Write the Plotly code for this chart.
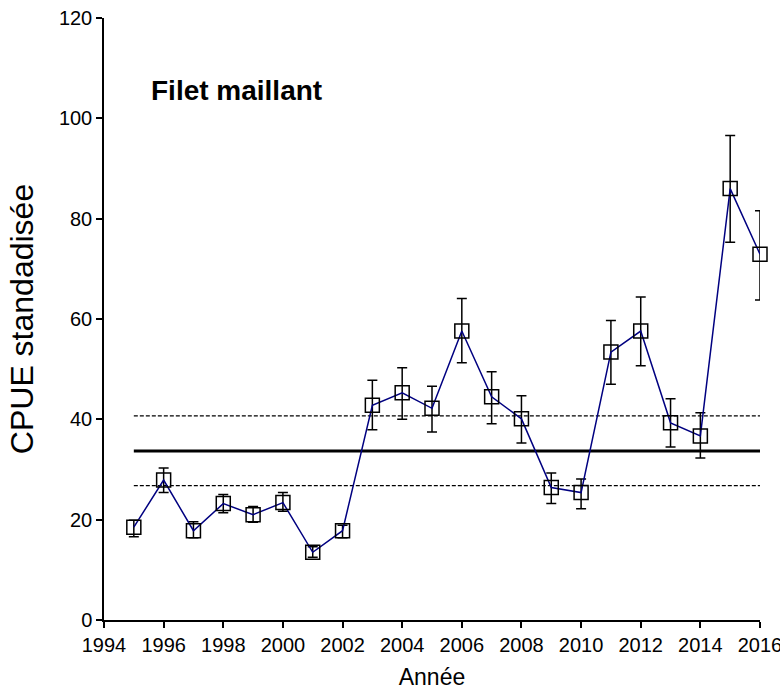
import plotly.graph_objects as go

# Standardised CPUE, gillnet fishery
years = [1995, 1996, 1997, 1998, 1999, 2000, 2001, 2002, 2003, 2004, 2005,
         2006, 2007, 2008, 2009, 2010, 2011, 2012, 2013, 2014, 2015, 2016]
cpue = [18.5, 27.9, 17.8, 23.2, 21.0, 23.4, 13.5, 17.8, 42.8, 45.3, 42.2,
        57.6, 44.5, 40.1, 26.4, 25.4, 53.4, 57.6, 39.3, 36.7, 86.0, 72.9]
upper = [19.9, 30.3, 19.6, 25.0, 22.6, 25.4, 14.6, 18.9, 47.8, 50.3, 46.6,
         64.1, 49.5, 44.7, 29.3, 28.1, 59.7, 64.4, 44.1, 41.3, 96.6, 81.6]
lower = [16.6, 25.4, 16.4, 21.4, 19.5, 21.7, 12.5, 16.4, 37.9, 40.0, 37.5,
         51.3, 39.1, 35.3, 23.2, 22.2, 47.0, 50.7, 34.5, 32.3, 75.3, 63.8]

# Long-term mean and its band
mean_level = 33.7
band_high = 40.7
band_low = 26.8
ref_span = [1995, 2016]

err_plus = [u - v for u, v in zip(upper, cpue)]
err_minus = [v - l for v, l in zip(cpue, lower)]

FONT = "Liberation Sans, Arial, sans-serif"

fig = go.Figure()

for level, dash, width in [(band_high, "4px,2px", 1.2), (band_low, "4px,2px", 1.2),
                           (mean_level, "solid", 3)]:
    fig.add_trace(go.Scatter(
        x=ref_span, y=[level, level], mode="lines",
        line=dict(color="black", width=width, dash=dash),
        hoverinfo="skip", showlegend=False, cliponaxis=False))

fig.add_trace(go.Scatter(
    x=years, y=cpue, mode="lines+markers", cliponaxis=False,
    line=dict(color="#000080", width=1.5),
    marker=dict(symbol="square-open", size=14, color="black",
                line=dict(color="black", width=1.5)),
    error_y=dict(type="data", symmetric=False, array=err_plus,
                 arrayminus=err_minus, color="black", thickness=1.5, width=5),
    showlegend=False))

fig.add_annotation(x=1995.5, y=105.5, xref="x", yref="y", text="<b>Filet maillant</b>",
                   showarrow=False, xanchor="left", yanchor="middle",
                   font=dict(family=FONT, size=28, color="black"))

axis_font = dict(family=FONT, size=20, color="black")
fig.update_xaxes(range=[1994, 2016], tickmode="array",
                 tickvals=list(range(1994, 2017, 2)), automargin=False,
                 ticklabeloverflow="allow",
                 showline=True, linecolor="black", linewidth=1.5,
                 ticks="outside", ticklen=6, tickwidth=1.5, tickcolor="black",
                 showgrid=False, zeroline=False, tickfont=axis_font,
                 title=dict(text="Année", font=dict(family=FONT, size=23, color="black"),
                            standoff=14))
fig.update_yaxes(range=[0, 120], tickmode="array", tickvals=list(range(0, 121, 20)),
                 automargin=False,
                 showline=True, linecolor="black", linewidth=1.5,
                 ticks="outside", ticklen=6, tickwidth=1.5, tickcolor="black",
                 showgrid=False, zeroline=False, tickfont=axis_font,
                 title=dict(text="CPUE standadisée", font=dict(family=FONT, size=32, color="black"),
                            standoff=16))

fig.update_layout(width=780, height=694, margin=dict(l=104, r=20, t=18, b=74),
                  paper_bgcolor="white", plot_bgcolor="white")

fig.write_html("out.html")
